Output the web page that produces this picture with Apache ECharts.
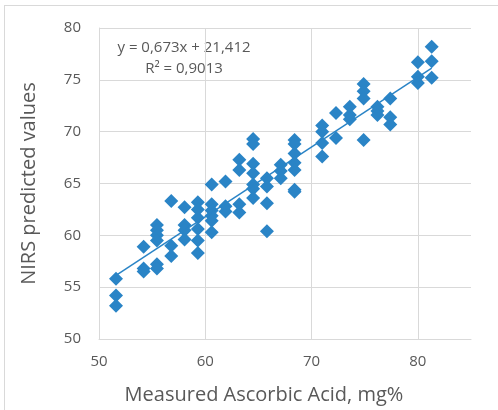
<!DOCTYPE html>
<html>
<head>
<meta charset="utf-8">
<script src="https://cdn.jsdelivr.net/npm/echarts@6/dist/echarts.min.js"></script>
<style>html,body{margin:0;padding:0;background:#fff}#c{width:498px;height:410px}</style>
</head>
<body>
<div id="c"></div>
<script>
// Measured (x) and predicted (y) values
const measured = [
  51.6,51.6,51.6,
  54.2,54.2,54.2,
  55.45,55.45,55.45,55.45,55.45,55.45,
  56.8,56.8,56.8,
  58.05,58.05,58.05,58.05,
  59.3,59.3,59.3,59.3,59.3,59.3,
  60.6,60.6,60.6,60.6,60.6,60.6,
  61.9,61.9,61.9,
  63.2,63.2,63.2,63.2,
  64.5,64.5,64.5,64.5,64.5,64.5,64.5,
  65.8,65.8,65.8,65.8,
  67.1,67.1,67.1,
  68.4,68.4,68.4,68.4,68.4,68.4,68.4,
  71.0,71.0,71.0,71.0,
  72.3,72.3,
  73.6,73.6,73.6,
  74.9,74.9,74.9,74.9,
  76.2,76.2,76.2,
  77.4,77.4,77.4,
  80.0,80.0,80.0,
  81.3,81.3,81.3
];
const predicted = [
  55.8,54.2,53.2,
  58.9,56.8,56.5,
  61.0,60.5,60.0,59.5,57.2,56.8,
  63.3,59.0,58.0,
  62.7,61.0,60.5,59.6,
  63.2,62.5,61.7,60.6,59.5,58.3,
  64.9,63.0,62.4,61.9,61.4,60.3,
  65.2,62.8,62.3,
  67.3,66.3,63.0,62.2,
  69.3,68.8,66.9,66.0,64.9,64.5,63.6,
  65.5,64.7,63.1,60.4,
  66.8,66.2,65.5,
  69.2,68.8,67.9,67.0,66.3,64.4,64.2,
  70.6,70.0,68.9,67.6,
  71.8,69.4,
  72.4,71.6,71.2,
  74.6,73.9,73.2,69.2,
  72.4,72.0,71.6,
  73.2,71.4,70.7,
  76.7,75.3,74.7,
  78.2,76.8,75.2
];
const slope = 0.673;
const intercept = 21.412;
const equationText = 'y = 0,673x + 21,412';
const r2Text = 'R² = 0,9013';
const xAxisTitle = 'Measured Ascorbic Acid, mg%';
const yAxisTitle = 'NIRS predicted values';

const points = measured.map((x, i) => [x, predicted[i]]);
const xMin = Math.min(...measured), xMax = Math.max(...measured);
const trend = [[xMin, slope * xMin + intercept], [xMax, slope * xMax + intercept]];

const gray = '#595959', gridC = '#D9D9D9', blue = '#2A84C6';
const font = '"Open Sans", "Noto Sans", sans-serif';

const chart = echarts.init(document.getElementById('c'), null, {renderer: 'canvas'});
chart.setOption({
  animation: false,
  backgroundColor: '#fff',
  grid: {left: 99, right: 27, top: 28, bottom: 70, containLabel: false},
  xAxis: {
    type: 'value', min: 50, max: 85, interval: 10,
    name: xAxisTitle, nameLocation: 'middle', nameGap: 46,
    nameTextStyle: {color: gray, fontSize: 20, fontFamily: font, padding: [0, 42, 0, 0]},
    axisLine: {show: true, lineStyle: {color: gridC, width: 1}},
    axisTick: {show: false},
    axisLabel: {color: gray, fontSize: 15, fontFamily: font, margin: 15, showMaxLabel: false},
    splitLine: {show: true, showMaxLine: false, lineStyle: {color: gridC, width: 1}}
  },
  yAxis: {
    type: 'value', min: 50, max: 80, interval: 5,
    name: yAxisTitle, nameLocation: 'middle', nameGap: 60, nameRotate: 90,
    nameTextStyle: {color: gray, fontSize: 20, fontFamily: font},
    axisLine: {show: true, lineStyle: {color: gridC, width: 1}},
    axisTick: {show: false},
    axisLabel: {color: gray, fontSize: 15, fontFamily: font, margin: 18},
    splitLine: {show: true, lineStyle: {color: gridC, width: 1}}
  },
  series: [
    {
      type: 'scatter', data: points, symbol: 'diamond', symbolSize: 14,
      itemStyle: {color: blue, opacity: 1}, z: 3
    },
    {
      type: 'line', data: trend, showSymbol: false, symbol: 'none',
      lineStyle: {color: blue, width: 1.5}, z: 4, silent: true
    }
  ],
  graphic: [
    {type: 'line', shape: {x1: 4, y1: 5.5, x2: 498, y2: 5.5}, style: {stroke: gridC, lineWidth: 1}},
    {type: 'line', shape: {x1: 4.5, y1: 5, x2: 4.5, y2: 410}, style: {stroke: gridC, lineWidth: 1}},
    {type: 'text', x: 184, y: 48, style: {text: equationText, fill: gray, font: '15px ' + font, textAlign: 'center', textVerticalAlign: 'middle'}},
    {type: 'text', x: 184, y: 69, style: {text: r2Text, fill: gray, font: '15px ' + font, textAlign: 'center', textVerticalAlign: 'middle'}}
  ]
});
</script>
</body>
</html>
